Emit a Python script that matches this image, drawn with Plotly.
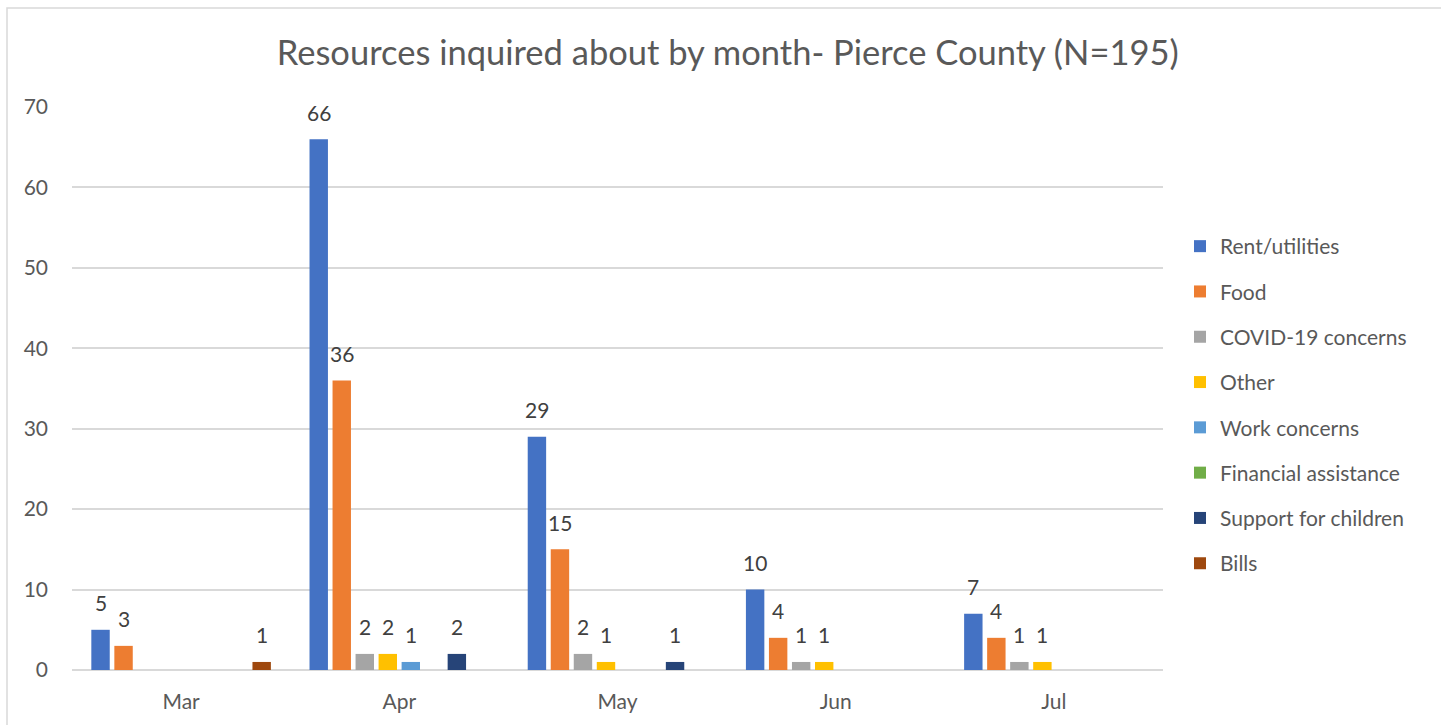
import plotly.graph_objects as go

# Monthly counts of inquiries, one list per resource type
months = ["Mar", "Apr", "May", "Jun", "Jul"]
rent_utilities = [5, 66, 29, 10, 7]
food = [3, 36, 15, 4, 4]
covid_concerns = [0, 2, 2, 1, 1]
other = [0, 2, 1, 1, 1]
work_concerns = [0, 1, 0, 0, 0]
financial_assistance = [0, 0, 0, 0, 0]
support_for_children = [0, 2, 1, 0, 0]
bills = [1, 0, 0, 0, 0]

series = [
    ("Rent/utilities", rent_utilities, "#4472C4"),
    ("Food", food, "#ED7D31"),
    ("COVID-19 concerns", covid_concerns, "#A5A5A5"),
    ("Other", other, "#FFC000"),
    ("Work concerns", work_concerns, "#5B9BD5"),
    ("Financial assistance", financial_assistance, "#70AD47"),
    ("Support for children", support_for_children, "#264478"),
    ("Bills", bills, "#9E480E"),
]

FONT = "Lato, Calibri, sans-serif"
FS = 21
W, H = 1441, 725
L, R, T, B = 72, 278, 107, 55
BARGAP = 0.156

fig = go.Figure()
n = len(series)
slot = (1 - BARGAP) / n
annotations = []
for i, (name, vals, color) in enumerate(series):
    fig.add_trace(go.Bar(
        x=months,
        y=vals,
        name=name,
        legendgroup=f"g{i}",
        marker=dict(color=color, line=dict(width=0)),
        hoverinfo="x+y+name",
    ))
    # value labels above each non-zero bar, centred on the bar's slot
    offset = -(1 - BARGAP) / 2 + (i + 0.5) * slot
    for j, v in enumerate(vals):
        if v:
            annotations.append(dict(
                x=j + offset, y=v, xref="x", yref="y",
                text=str(v), showarrow=False,
                yanchor="middle", yshift=27,
                font=dict(family=FONT, size=FS, color="#404040"),
            ))

pw = W - L - R
ph = H - T - B

def px_x(p):
    return (p - L) / pw

def px_y(p):
    return (H - B - p) / ph

fig.update_layout(
    width=W,
    height=H,
    margin=dict(l=L, r=R, t=T, b=B, autoexpand=False),
    paper_bgcolor="white",
    plot_bgcolor="white",
    barmode="group",
    bargap=BARGAP,
    bargroupgap=0.2,
    font=dict(family=FONT, color="#595959", size=FS),
    title=dict(
        text="Resources inquired about by month- Pierce County (N=195)",
        x=0.505, xref="container", xanchor="center",
        y=1 - 53 / H, yref="container", yanchor="middle",
        font=dict(family=FONT, size=34.5, color="#595959"),
    ),
    xaxis=dict(
        showgrid=False, showline=False, ticks="",
        tickfont=dict(family=FONT, size=FS, color="#595959"),
        ticklabelstandoff=17,
    ),
    yaxis=dict(
        range=[0, 70], dtick=10, showgrid=True, gridcolor="#D9D9D9", gridwidth=1.5,
        zeroline=True, zerolinecolor="#D9D9D9", zerolinewidth=1.5,
        showline=False, ticks="",
        tickfont=dict(family=FONT, size=FS, color="#595959"),
        ticklabelstandoff=23,
    ),
    legend=dict(
        x=px_x(1180), xanchor="left",
        y=px_y(226), yanchor="top",
        font=dict(family=FONT, size=FS, color="#595959"),
        tracegroupgap=15,
        itemwidth=30,
        bgcolor="rgba(0,0,0,0)",
    ),
    annotations=annotations,
    shapes=[dict(
        type="rect", xref="paper", yref="paper",
        x0=px_x(7), x1=px_x(W + 5), y0=px_y(H + 5), y1=px_y(8),
        line=dict(color="#D9D9D9", width=1.5), fillcolor="rgba(0,0,0,0)",
        layer="below",
    )],
)

fig.write_html("out.html")
